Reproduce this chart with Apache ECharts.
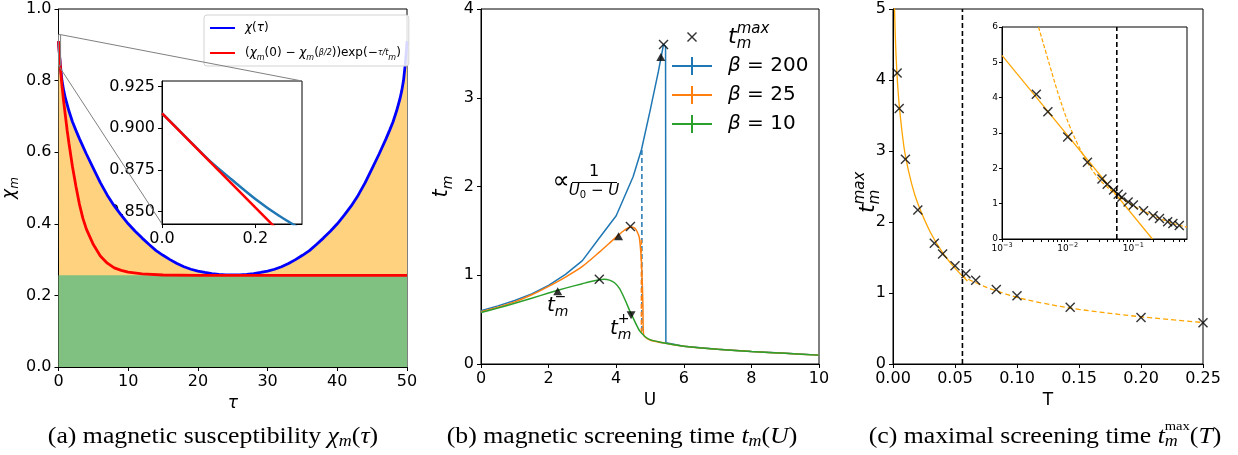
<!DOCTYPE html>
<html><head><meta charset="utf-8">
<script src="https://cdn.jsdelivr.net/npm/echarts@6.0.0/dist/echarts.min.js"></script>
<style>html,body{margin:0;padding:0;background:#fff}#c{width:1238px;height:455px}</style>
</head><body><div id="c"></div>
<script>
// ---------- data ----------
// (a) magnetic susceptibility
const tauBlue = [0,0.1,0.25,0.5,0.75,1,1.5,2,2.5,3,4,5,6,7,8,9,10,11,12,13,14,15,16,17,18,19,20,21,22,23,24,25,
                 26,27,28,29,30,31,32,33,34,35,36,37,38,39,40,41,42,43,44,45,46,47,47.5,48,48.5,49,49.25,49.5,49.75,49.9,50];
const chiBlue = [0.91,0.882,0.846,0.80,0.772,0.75,0.715,0.685,0.661,0.638,0.595,0.555,0.515,0.48,0.45,0.424,0.40,0.379,0.36,0.342,0.325,0.312,0.30,0.289,0.28,0.273,0.268,0.264,0.261,0.259,0.2575,0.257,
                 0.2575,0.259,0.261,0.264,0.268,0.273,0.28,0.289,0.30,0.312,0.325,0.342,0.36,0.379,0.40,0.424,0.45,0.48,0.515,0.555,0.595,0.638,0.661,0.685,0.715,0.75,0.772,0.80,0.846,0.882,0.91];
const tauRed = [0,0.1,0.25,0.5,0.75,1,1.25,1.5,2,2.5,3,3.5,4,5,6,7,8,9,10,12,15,20,50];
const chiRed = [0.91,0.882,0.842,0.785,0.74,0.70,0.66,0.625,0.56,0.505,0.455,0.415,0.385,0.342,0.31,0.29,0.277,0.27,0.265,0.26,0.257,0.256,0.256];
const tauBase = [0,50];
const chiBase = [0.256,0.256];
// (a) inset
const insetTau = [0,0.05,0.1,0.15,0.2,0.25,0.3];
const insetBlue = [0.909,0.895,0.881,0.869,0.8575,0.8475,0.839];
const insetRedTau = [0,0.3];
const insetRed = [0.909,0.824];
// (b) screening time vs U
const uB200 = [0,0.5,1,1.5,2,2.5,3,3.5,4,4.5,4.75,5,5.25,5.4,5.46,5.47,6,7,8,9,10];
const tB200 = [0.6,0.655,0.715,0.79,0.885,1.01,1.165,1.42,1.67,2.11,2.42,2.85,3.3,3.6,3.58,0.24,0.2,0.165,0.14,0.12,0.1];
const uB25 = [0,0.5,1,1.5,2,2.5,3,3.5,4,4.25,4.42,4.55,4.62,4.68,4.72,4.76,4.79,4.81,5,5.5,6,7,8,9,10];
const tB25 = [0.59,0.64,0.70,0.78,0.875,0.98,1.10,1.26,1.43,1.51,1.545,1.53,1.49,1.43,1.30,1.05,0.67,0.33,0.27,0.23,0.2,0.165,0.14,0.12,0.1];
const uB10 = [0,0.5,1,1.5,2,2.5,3,3.25,3.5,3.65,3.8,3.95,4.1,4.2,4.3,4.4,4.5,4.6,4.7,4.85,5,5.5,6,7,8,9,10];
const tB10 = [0.58,0.63,0.684,0.74,0.8,0.855,0.905,0.93,0.95,0.955,0.945,0.915,0.85,0.775,0.69,0.6,0.52,0.44,0.37,0.31,0.275,0.23,0.2,0.165,0.14,0.12,0.1];
const uDashBlue = [4.76,4.76];  const tDashBlue = [2.41,0.35];
const uDashOrange = [4.745,4.745]; const tDashOrange = [1.40,0.33];
const uMax = [5.40,4.42,3.5];  const tMax = [3.6,1.55,0.955];
const uMinus = [5.32,4.07,2.27]; const tMinus = [3.46,1.44,0.82];
const uPlus = [4.44]; const tPlus = [0.55];
// (c) maximal screening time vs T
const cT  = [0.00333,0.005,0.01,0.02,0.0333,0.04,0.05,0.0588,0.0667,0.0833,0.1,0.1429,0.2,0.25];
const cTm = [4.1,3.6,2.885,2.17,1.70,1.55,1.385,1.27,1.18,1.05,0.96,0.80,0.655,0.58];
const cTExtra  = [0.333,0.4,0.5];
const cTmExtra = [0.49,0.44,0.38];
const fitLowT = [0.0012,0.002,0.003,0.004,0.005,0.0075,0.01,0.015,0.02,0.03,0.04,0.05,0.06];
const fitLowV = [5.02,4.55,4.15,3.87,3.65,3.24,2.93,2.54,2.26,1.86,1.57,1.35,1.17];
const fitHighT = [0.055,0.06,0.07,0.08,0.1,0.12,0.15,0.2,0.25];
const fitHighV = [1.25,1.2,1.12,1.05,0.94,0.86,0.77,0.665,0.585];
const insLowT = [0.001,0.195];
const insLowV = [5.2,0];
const insHighT = [0.0036,0.0053,0.0075,0.0107,0.017,0.027,0.04,0.055,0.08,0.11,0.15,0.2,0.25,0.35,0.5,0.656];
const insHighV = [6.0,4.93,4.0,3.2,2.4,1.8,1.47,1.25,1.05,0.9,0.77,0.665,0.585,0.48,0.39,0.34];
const tCross = 0.056;
const vLineY = [0,5];
const vLineYIns = [0,6];

// ---------- helpers ----------
const zip = (a,b) => a.map((v,i)=>[v,b[i]]);
const FF = 'DejaVu Sans';
const SERIF = 'Liberation Serif';
const XPATH = 'path://M0,1L1,0L5,4L9,0L10,1L6,5L10,9L9,10L5,6L1,10L0,9L4,5Z';
const ERRPATH = 'path://M0,8L19,8L19,0L21,0L21,8L40,8L40,10L21,10L21,18L19,18L19,10L0,10Z';

function ax(extra){
  const base = {
    type:'value',
    axisLine:{show:true, onZero:false, lineStyle:{color:'#000', width:1}},
    axisTick:{show:true, inside:false, length:4, lineStyle:{color:'#000', width:1}},
    splitLine:{show:false},
    axisLabel:{color:'#000', fontSize:16, fontFamily:FF, margin:7},
    nameTextStyle:{color:'#000', fontSize:17, fontFamily:FF}
  };
  const out = Object.assign({}, base, extra);
  ['axisLine','axisTick','axisLabel','nameTextStyle'].forEach(k=>{
    if (extra[k]) out[k] = Object.assign({}, base[k], extra[k]);
  });
  return out;
}
const gridStyle = {show:true, borderColor:'#000', borderWidth:1, backgroundColor:'transparent'};

const option = {
  animation:false,
  backgroundColor:'#fff',
  grid:[
    Object.assign({left:57, top:9, width:350, height:358}, gridStyle),
    Object.assign({left:162, top:81, width:140, height:143}, gridStyle, {backgroundColor:'#fff'}),
    Object.assign({left:481, top:9, width:338, height:355}, gridStyle),
    Object.assign({left:893, top:9, width:310, height:355}, gridStyle),
    Object.assign({left:1002, top:27, width:185, height:212}, gridStyle, {backgroundColor:'#fff'})
  ],
  xAxis:[
    ax({gridIndex:0, min:0, max:50, interval:10, name:'τ', nameLocation:'middle', nameGap:24,
        nameTextStyle:{fontStyle:'italic'}}),
    ax({gridIndex:1, min:0, max:0.3,
        axisLabel:{customValues:[0,0.2], formatter:v=>v.toFixed(1)}, axisTick:{customValues:[0,0.2]}}),
    ax({gridIndex:2, min:0, max:10, interval:2, name:'U', nameLocation:'middle', nameGap:24}),
    ax({gridIndex:3, min:0, max:0.25, interval:0.05, name:'T', nameLocation:'middle', nameGap:24,
        axisLabel:{formatter:v=>v.toFixed(2)}}),
    ax({gridIndex:4, type:'log', logBase:10, min:0.001, max:0.656,
        axisTick:{length:3, customValues:[0.001,0.002,0.003,0.004,0.005,0.006,0.007,0.008,0.009,0.01,0.02,0.03,0.04,0.05,0.06,0.07,0.08,0.09,0.1,0.2,0.3,0.4,0.5,0.6]},
        axisLabel:{fontSize:9, margin:3, customValues:[0.001,0.01,0.1],
          formatter:v=>{const e=Math.round(Math.log10(v)); return '{b|10}{p|'+(e<0?'−':'')+Math.abs(e)+'}';},
          rich:{b:{fontSize:9, fontFamily:FF, lineHeight:14, color:'#000'}, p:{fontSize:6.5, fontFamily:FF, verticalAlign:'top', lineHeight:7, color:'#000'}}}})
  ],
  yAxis:[
    ax({gridIndex:0, min:0, max:1, interval:0.2, name:'{i|χ}{s|m}', nameLocation:'middle', nameGap:38,
        axisLabel:{formatter:v=>v.toFixed(1)},
        nameTextStyle:{rich:{i:{fontSize:17, fontStyle:'italic', fontFamily:FF, lineHeight:22, color:'#000'}, s:{fontSize:12, fontStyle:'italic', fontFamily:FF, verticalAlign:'bottom', lineHeight:12, color:'#000'}}}}),
    ax({gridIndex:1, min:0.8424, max:0.9284,
        axisLabel:{customValues:[0.85,0.875,0.9,0.925], formatter:v=>v.toFixed(3)}, axisTick:{customValues:[0.85,0.875,0.9,0.925]}}),
    ax({gridIndex:2, min:0, max:4, interval:1, name:'{i|t}{s|m}', nameLocation:'middle', nameGap:26,
        nameTextStyle:{rich:{i:{fontSize:21, fontStyle:'italic', fontFamily:FF, lineHeight:26, color:'#000'}, s:{fontSize:14, fontStyle:'italic', fontFamily:FF, verticalAlign:'bottom', lineHeight:14, color:'#000'}}}}),
    ax({gridIndex:3, min:0, max:5, interval:1}),
    ax({gridIndex:4, min:0, max:6, interval:1, axisTick:{length:3}, axisLabel:{fontSize:9, margin:4}})
  ],
  legend:[
    {left:204, top:15, orient:'vertical', data:['chi','fit'], selectedMode:false,
     icon:'rect', itemWidth:25, itemHeight:2, itemGap:7, padding:[4,8,4,6],
     backgroundColor:'rgba(255,255,255,0.85)', borderColor:'#d3d3d3', borderWidth:1, borderRadius:3,
     formatter: n => n==='chi' ? '{i|χ}({i|τ})' : '({i|χ}{s|m}(0) − {i|χ}{s|m}({f|β/2}))exp(−{f|τ/t}{s|m})',
     textStyle:{fontFamily:FF, fontSize:12, color:'#000', padding:[0,0,0,5], lineHeight:18,
       rich:{i:{fontStyle:'italic', fontSize:12, fontFamily:FF, color:'#000'},
             s:{fontStyle:'italic', fontSize:8, fontFamily:FF, verticalAlign:'bottom', lineHeight:10, color:'#000'},
             f:{fontSize:8, fontStyle:'italic', fontFamily:FF, color:'#000'}}}},
    {left:687, top:32, data:['tmax'], selectedMode:false, icon:XPATH, itemWidth:10, itemHeight:10, padding:0,
     formatter:()=>'', itemStyle:{color:'#000'}},
    {left:672, top:54, orient:'vertical', data:['β = 200','β = 25','β = 10'], selectedMode:false,
     icon:ERRPATH, itemWidth:40, itemHeight:18, itemGap:5, padding:0,
     formatter: n => '{b|β}' + n.slice(1),
     textStyle:{fontFamily:FF, fontSize:20, color:'#000', lineHeight:24, padding:[0,0,0,11],
       rich:{b:{fontStyle:'italic', fontSize:20, fontFamily:FF, color:'#000'}}}}
  ],
  series:[
    // (a) main
    {name:'chi', type:'line', xAxisIndex:0, yAxisIndex:0, data:zip(tauBlue,chiBlue), symbol:'none',
     lineStyle:{color:'#0000ff', width:2.8}, itemStyle:{color:'#0000ff'}, areaStyle:{color:'#ffd280', opacity:1}, z:2},
    {type:'line', xAxisIndex:0, yAxisIndex:0, data:zip(tauBase,chiBase), symbol:'none',
     lineStyle:{width:0}, areaStyle:{color:'#80c080', opacity:1}, z:3},
    {name:'fit', type:'line', xAxisIndex:0, yAxisIndex:0, data:zip(tauRed,chiRed), symbol:'none',
     lineStyle:{color:'#ff0000', width:2.8}, itemStyle:{color:'#ff0000'}, z:4},
    // (a) inset
    {type:'line', xAxisIndex:1, yAxisIndex:1, data:zip(insetTau,insetBlue), symbol:'none', smooth:0.3,
     lineStyle:{color:'#1f77b4', width:2.5}, z:5},
    {type:'line', xAxisIndex:1, yAxisIndex:1, data:zip(insetRedTau,insetRed), symbol:'none',
     lineStyle:{color:'#ff0000', width:2.5}, z:6},
    // (b)
    {name:'β = 200', type:'line', xAxisIndex:2, yAxisIndex:2, data:zip(uB200,tB200), symbol:'none',
     lineStyle:{color:'#1f77b4', width:1.5}, itemStyle:{color:'#1f77b4'}, z:3},
    {name:'β = 25', type:'line', xAxisIndex:2, yAxisIndex:2, data:zip(uB25,tB25), symbol:'none', smooth:0.25,
     lineStyle:{color:'#ff7f0e', width:1.5}, itemStyle:{color:'#ff7f0e'}, z:4},
    {name:'β = 10', type:'line', xAxisIndex:2, yAxisIndex:2, data:zip(uB10,tB10), symbol:'none', smooth:0.2,
     lineStyle:{color:'#2ca02c', width:1.5}, itemStyle:{color:'#2ca02c'}, z:5},
    {type:'line', xAxisIndex:2, yAxisIndex:2, data:zip(uDashBlue,tDashBlue), symbol:'none',
     lineStyle:{color:'#1f77b4', width:1.5, type:[5,3]}, z:3},
    {type:'line', xAxisIndex:2, yAxisIndex:2, data:zip(uDashOrange,tDashOrange), symbol:'none',
     lineStyle:{color:'#ff7f0e', width:1.5, type:[5,3]}, z:3},
    {name:'tmax', type:'scatter', xAxisIndex:2, yAxisIndex:2, data:zip(uMax,tMax), symbol:XPATH, symbolSize:10,
     itemStyle:{color:'#000'}, z:8},
    {type:'scatter', xAxisIndex:2, yAxisIndex:2, data:zip(uMinus,tMinus), symbol:'triangle', symbolSize:[9,8],
     itemStyle:{color:'#000'}, z:8},
    {type:'scatter', xAxisIndex:2, yAxisIndex:2, data:zip(uPlus,tPlus), symbol:'triangle', symbolRotate:180, symbolSize:[9,8],
     itemStyle:{color:'#000'}, z:8},
    // (c) main
    {type:'line', xAxisIndex:3, yAxisIndex:3, data:zip(fitLowT,fitLowV), symbol:'none', smooth:0.4,
     lineStyle:{color:'#ffa500', width:1.3}, z:3},
    {type:'line', xAxisIndex:3, yAxisIndex:3, data:zip(fitHighT,fitHighV), symbol:'none', smooth:0.4,
     lineStyle:{color:'#ffa500', width:1.3, type:[5,3]}, z:3},
    {type:'line', xAxisIndex:3, yAxisIndex:3, data:[[tCross,vLineY[0]],[tCross,vLineY[1]]], symbol:'none',
     lineStyle:{color:'#000', width:1.6, type:[5,3]}, z:3},
    {type:'scatter', xAxisIndex:3, yAxisIndex:3, data:zip(cT,cTm), symbol:XPATH, symbolSize:10, itemStyle:{color:'#000'}, z:6},
    // (c) inset
    {type:'line', xAxisIndex:4, yAxisIndex:4, data:zip(insLowT,insLowV), symbol:'none',
     lineStyle:{color:'#ffa500', width:1.2}, z:7},
    {type:'line', xAxisIndex:4, yAxisIndex:4, data:zip(insHighT,insHighV), symbol:'none', smooth:0.4,
     lineStyle:{color:'#ffa500', width:1.2, type:[4,2]}, z:7},
    {type:'line', xAxisIndex:4, yAxisIndex:4, data:[[tCross,vLineYIns[0]],[tCross,vLineYIns[1]]], symbol:'none',
     lineStyle:{color:'#000', width:1.6, type:[5,3]}, z:7},
    {type:'scatter', xAxisIndex:4, yAxisIndex:4, data:zip(cT.concat(cTExtra), cTm.concat(cTmExtra)), symbol:XPATH, symbolSize:10,
     itemStyle:{color:'#000'}, z:9}
  ]
};

const chart = echarts.init(document.getElementById('c'));
chart.setOption(option);

// ---------- annotations ----------
const mctx = document.createElement('canvas').getContext('2d');
function tw(t, font){ mctx.font = font; return mctx.measureText(t).width; }
function row(x, y, segs, opt){
  opt = opt || {};
  const children = []; let cx = 0; let kept = 0;
  segs.forEach(s=>{
    const font = (s.it ? 'italic ' : '') + s.fs + 'px "' + (s.ff || FF) + '"';
    const w = tw(s.t, font);
    children.push({type:'text', x:cx + (s.dx||0), y:(s.dy||0),
      style:{text:s.t, font:font, fill:'#000', align:'left', verticalAlign:'middle'}});
    if (s.keep) { kept = w; } else { cx += Math.max(w, kept); kept = 0; }
  });
  const shift = opt.align === 'center' ? -cx/2 : 0;
  children.forEach(c=>{ c.x += shift; });
  return {type:'group', x:x, y:y, rotation:opt.rot || 0, scaleX:opt.sx || 1, children:children, z:100};
}
const P = (g, xy) => chart.convertToPixel({gridIndex:g}, xy);
const r1 = P(0,[0,0.9284]), r2 = P(0,[0.3,0.8424]);
const i1 = P(1,[0.3,0.9284]), i2 = P(1,[0,0.8424]);
const grey = {stroke:'#808080', lineWidth:1, fill:'none'};
const S = (t,fs,o) => Object.assign({t:t, fs:fs, ff:SERIF}, o||{});
const CF = 23, CS = 16, CSX = 1.12;
const graphics = [
  {type:'rect', shape:{x:r1[0], y:r1[1], width:r2[0]-r1[0], height:r2[1]-r1[1]}, style:grey, z:50},
  {type:'line', shape:{x1:r2[0], y1:r1[1], x2:i1[0], y2:i1[1]}, style:grey, z:50},
  {type:'line', shape:{x1:r1[0], y1:r2[1], x2:i2[0], y2:i2[1]}, style:grey, z:50},
  // legend (b) label for the max marker
  row(728, 37, [{t:'t',fs:22,it:1},{t:'max',fs:15,it:1,dy:-8,keep:1},{t:'m',fs:15,it:1,dy:7}]),
  // t_m^- and t_m^+
  row(547, 306, [{t:'t',fs:20,it:1},{t:'−',fs:14,dy:-9,keep:1},{t:'m',fs:14,it:1,dy:6}]),
  row(610, 329, [{t:'t',fs:20,it:1},{t:'+',fs:14,dy:-10,keep:1},{t:'m',fs:14,it:1,dy:6}]),
  // ∝ 1/(U0 - U)
  {type:'text', x:561, y:182, z:100, style:{text:'∝', font:'24px "DejaVu Sans"', fill:'#000', align:'center', verticalAlign:'middle'}},
  {type:'text', x:594, y:172, z:100, style:{text:'1', font:'16px "DejaVu Sans"', fill:'#000', align:'center', verticalAlign:'middle'}},
  {type:'line', z:100, shape:{x1:572, y1:182.5, x2:617, y2:182.5}, style:{stroke:'#000', lineWidth:1.2}},
  row(594, 191, [{t:'U',fs:15,it:1},{t:'0',fs:10,dy:4},{t:' − ',fs:15},{t:'U',fs:15,it:1}], {align:'center'}),
  // y label of (c)
  row(868, 213, [{t:'t',fs:22,it:1},{t:'max',fs:15,it:1,dy:-8,keep:1},{t:'m',fs:15,it:1,dy:7}], {rot:Math.PI/2}),
  // captions
  row(213, 437, [S('(a) magnetic susceptibility ',CF), S('χ',CF,{it:1}), S('m',CS,{it:1,dy:5}), S('(',CF), S('τ',CF,{it:1}), S(')',CF)], {align:'center', sx:CSX}),
  row(622, 437, [S('(b) magnetic screening time ',CF), S('t',CF,{it:1}), S('m',CS,{it:1,dy:5}), S('(',CF), S('U',CF,{it:1}), S(')',CF)], {align:'center', sx:CSX}),
  row(1045, 437, [S('(c) maximal screening time ',CF), S('t',CF,{it:1}), S('max',13,{dy:-10,keep:1}), S('m',CS,{it:1,dy:5}), S('(',CF), S('T',CF,{it:1}), S(')',CF)], {align:'center', sx:CSX})
];
chart.setOption({graphic:graphics});
</script>
</body></html>
